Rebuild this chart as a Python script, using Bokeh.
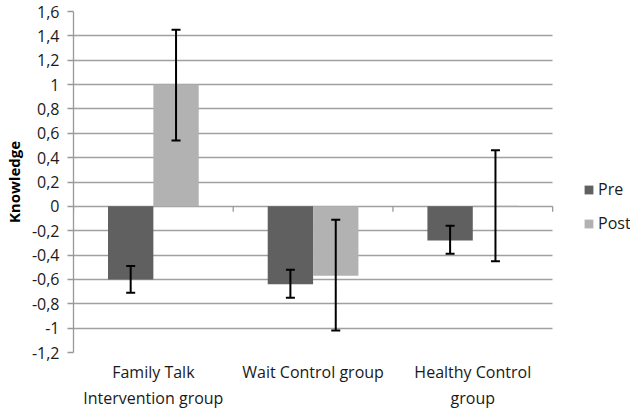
from bokeh.plotting import figure
from bokeh.models import (ColumnDataSource, Range1d, FixedTicker, Whisker,
                          TeeHead, Legend, LegendItem)
from bokeh.transform import dodge
from bokeh.embed import file_html
from bokeh.resources import INLINE

# ---- data ----
categories = ["Family Talk\nIntervention group", "Wait Control group", "Healthy Control\ngroup"]
pre_values = [-0.60, -0.64, -0.28]
pre_lower = [-0.71, -0.75, -0.39]
pre_upper = [-0.49, -0.52, -0.16]
post_values = [1.00, -0.57, 0.005]
post_lower = [0.54, -1.02, -0.45]
post_upper = [1.45, -0.11, 0.46]
y_ticks = [round(-1.2 + 0.2 * i, 1) for i in range(15)]

FONT = "Open Sans"
n = len(categories)
centers = [i + 0.5 for i in range(n)]

src = ColumnDataSource(dict(x=centers, pre=pre_values, pre_lo=pre_lower, pre_hi=pre_upper,
                            post=post_values, post_lo=post_lower, post_hi=post_upper))

p = figure(width=630, height=411, output_backend="svg", toolbar_location=None,
           x_range=Range1d(0, n + 0.4875), y_range=Range1d(-1.2, 1.6))
p.min_border_left = 72
p.min_border_top = 11
p.min_border_bottom = 0
p.min_border_right = 0
p.outline_line_color = None
p.background_fill_color = "white"

bw = 0.284
off = 0.142
r_pre = p.vbar(x=dodge("x", -off), top="pre", bottom=0, width=bw,
               source=src, fill_color="#606060", line_color=None)
r_post = p.vbar(x=dodge("x", off), top="post", bottom=0, width=bw,
                source=src, fill_color="#b2b2b2", line_color=None)

for col, lo, hi in [(-off, "pre_lo", "pre_hi"), (off, "post_lo", "post_hi")]:
    w = Whisker(base=dodge("x", col), lower=lo, upper=hi, source=src,
                line_color="black", line_width=2, level="annotation",
                upper_head=TeeHead(size=9, line_width=2, line_color="black"),
                lower_head=TeeHead(size=9, line_width=2, line_color="black"))
    p.add_layout(w)

# category axis tick marks on the zero line (category boundaries)
bounds = list(range(n + 1))
bsrc = ColumnDataSource(dict(b=bounds, z=[0] * len(bounds), d=[-0.045] * len(bounds)))
p.segment(x0="b", y0="z", x1="b", y1="d", source=bsrc, line_color="#999999", line_width=1.3)

# y axis
p.yaxis.ticker = FixedTicker(ticks=y_ticks)
p.yaxis.major_label_overrides = {t: (f"{t:g}".replace(".", ",") if t != 0 else "0") for t in y_ticks}
p.yaxis.axis_label = "Knowledge"
p.yaxis.axis_label_text_font = FONT
p.yaxis.axis_label_text_font_style = "bold"
p.yaxis.axis_label_text_font_size = "15px"
p.yaxis.axis_label_text_color = "black"
p.yaxis.axis_label_standoff = 5
p.yaxis.major_label_text_font = FONT
p.yaxis.major_label_text_font_size = "16px"
p.yaxis.major_label_text_color = "#1a1a1a"
p.yaxis.axis_line_color = "#999999"
p.yaxis.axis_line_width = 1.3
p.yaxis.major_tick_line_color = "#999999"
p.yaxis.major_tick_line_width = 1.3
p.yaxis.major_tick_out = 6
p.yaxis.major_tick_in = 0
p.yaxis.minor_tick_line_color = None
p.yaxis.major_label_standoff = 8

p.ygrid.ticker = FixedTicker(ticks=y_ticks)
p.ygrid.grid_line_color = "#a0a0a0"
p.ygrid.grid_line_width = 1.5
p.ygrid.cross_bounds = (0, n)
p.xgrid.grid_line_color = None

# x axis: category names at category centres
p.xaxis.ticker = FixedTicker(ticks=centers)
p.xaxis.major_label_overrides = {c: name for c, name in zip(centers, categories)}
p.xaxis.axis_line_color = None
p.xaxis.major_tick_line_color = None
p.xaxis.minor_tick_line_color = None
p.xaxis.major_tick_out = 0
p.xaxis.major_label_text_font = FONT
p.xaxis.major_label_text_font_size = "16px"
p.xaxis.major_label_text_color = "#1a1a1a"
p.xaxis.major_label_standoff = 8

legend = Legend(items=[LegendItem(label="Pre", renderers=[r_pre]),
                       LegendItem(label="Post", renderers=[r_post])],
                location=(510, 118), border_line_color=None, background_fill_alpha=0,
                glyph_width=11, glyph_height=11, label_text_font=FONT,
                label_text_font_size="16px", label_text_color="#1a1a1a",
                spacing=12, label_standoff=4, padding=0, margin=0)
p.add_layout(legend)

open("out.html", "w").write(file_html(p, INLINE))
